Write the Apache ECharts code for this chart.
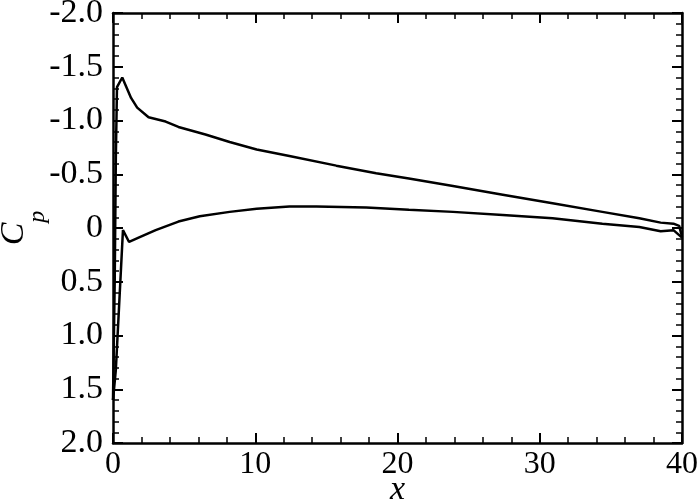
<!DOCTYPE html>
<html>
<head>
<meta charset="utf-8">
<script src="https://cdn.jsdelivr.net/npm/echarts@6/dist/echarts.min.js"></script>
<style>
  html, body { margin: 0; padding: 0; background: #fff; }
  #cp-chart { width: 700px; height: 503px; }
</style>
</head>
<body>
<div id="cp-chart"></div>
<script>
// upper surface (suction side)
var upperX  = [0, 0.12, 0.2, 0.28, 0.65, 1.27, 1.7, 2.5, 3.7, 4.6, 6.5, 8.2, 10.1, 12.4, 15.7, 18.5, 20.8, 23.9, 27.4, 30.9, 34.4, 37.0, 38.5, 39.4, 39.8, 40];
var upperCp = [1.6, 0.5, -0.66, -1.31, -1.40, -1.21, -1.12, -1.03, -0.99, -0.94, -0.87, -0.80, -0.73, -0.67, -0.58, -0.51, -0.46, -0.39, -0.31, -0.23, -0.15, -0.09, -0.05, -0.04, -0.02, 0.08];
// lower surface (pressure side)
var lowerX  = [0, 0.2, 0.7, 1.13, 1.8, 3.0, 4.6, 6.1, 8.2, 10.1, 12.4, 14.3, 17.8, 20.8, 23.9, 27.4, 30.9, 34.4, 37.0, 38.5, 39.4, 40];
var lowerCp = [1.6, 1.32, 0.02, 0.13, 0.09, 0.02, -0.06, -0.11, -0.15, -0.18, -0.20, -0.20, -0.19, -0.17, -0.15, -0.12, -0.09, -0.04, -0.01, 0.03, 0.02, 0.09];

var xTicks = { min: 0, max: 40, interval: 10 };
var yTicks = { min: -2, max: 2, interval: 0.5 };

function pairs(xs, ys) {
  var out = [];
  for (var i = 0; i < xs.length; ++i) out.push([xs[i], ys[i]]);
  return out;
}

var font = 'Liberation Serif';
var axisLine = { show: true, onZero: false, lineStyle: { color: '#000', width: 2.5 } };
var tick = { show: true, inside: true, length: 10, lineStyle: { color: '#000', width: 2 } };
var minor = { show: true, splitNumber: 5, length: 6, lineStyle: { color: '#000', width: 1.5 } };

var chart = echarts.init(document.getElementById('cp-chart'));
var option = {
  backgroundColor: '#fff',
  animation: false,
  grid: { left: 113, right: 18, top: 13, bottom: 60, containLabel: false, outerBoundsMode: 'none' },
  xAxis: [{
    type: 'value', min: xTicks.min, max: xTicks.max, interval: xTicks.interval,
    position: 'bottom',
    name: 'x', nameLocation: 'middle', nameGap: 30, nameMoveOverlap: false,
    nameTextStyle: { fontFamily: font, fontStyle: 'italic', fontSize: 34, color: '#000' },
    axisLine: axisLine, axisTick: tick, minorTick: minor,
    axisLabel: { fontFamily: font, fontSize: 32, color: '#000', margin: 6 },
    splitLine: { show: false }
  }, {
    type: 'value', min: xTicks.min, max: xTicks.max, interval: xTicks.interval,
    position: 'top',
    axisLine: axisLine, axisTick: tick, minorTick: minor,
    axisLabel: { show: false }, splitLine: { show: false }
  }],
  yAxis: [{
    type: 'value', min: yTicks.min, max: yTicks.max, interval: yTicks.interval,
    inverse: true, position: 'left',
    name: '{c|C}{p|p}', nameLocation: 'middle', nameGap: 82, nameRotate: 90, nameMoveOverlap: false,
    nameTextStyle: {
      rich: {
        c: { fontFamily: font, fontStyle: 'italic', fontSize: 34, color: '#000', lineHeight: 34, verticalAlign: 'top' },
        p: { fontFamily: font, fontStyle: 'italic', fontSize: 24, color: '#000', lineHeight: 24, padding: [29, 0, 0, 0], verticalAlign: 'top' }
      }
    },
    axisLine: axisLine, axisTick: tick, minorTick: minor,
    axisLabel: {
      fontFamily: font, fontSize: 34, color: '#000', margin: 10,
      formatter: function (v) { return v === 0 ? '0' : v.toFixed(1); }
    },
    splitLine: { show: false }
  }, {
    type: 'value', min: yTicks.min, max: yTicks.max, interval: yTicks.interval,
    inverse: true, position: 'right',
    axisLine: axisLine, axisTick: tick, minorTick: minor,
    axisLabel: { show: false }, splitLine: { show: false }
  }],
  series: [{
    name: 'upper', type: 'line', xAxisIndex: 0, yAxisIndex: 0,
    symbol: 'none', lineStyle: { color: '#000', width: 2.5 },
    data: pairs(upperX, upperCp)
  }, {
    name: 'lower', type: 'line', xAxisIndex: 0, yAxisIndex: 0,
    symbol: 'none', lineStyle: { color: '#000', width: 2.5 },
    data: pairs(lowerX, lowerCp)
  }]
};
chart.setOption(option);
</script>
</body>
</html>
